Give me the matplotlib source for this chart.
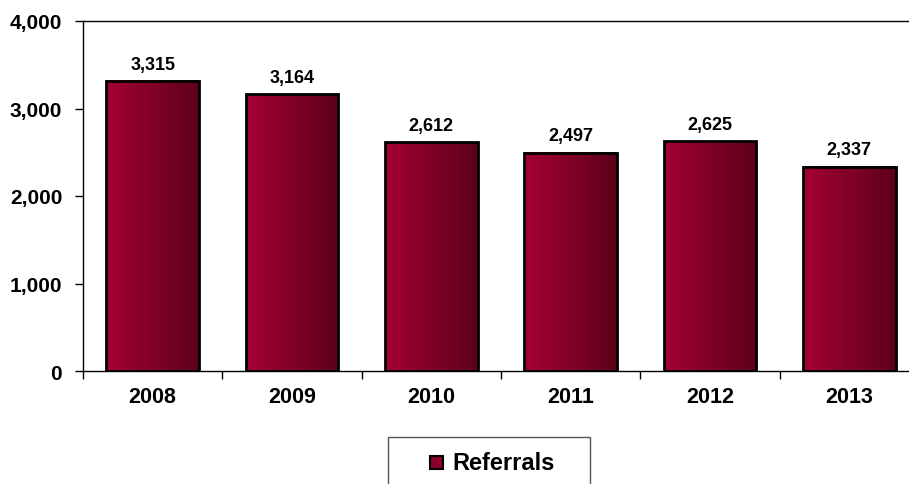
import matplotlib.pyplot as plt
import numpy as np
from matplotlib.patches import Rectangle
from matplotlib.colors import LinearSegmentedColormap

years = ["2008", "2009", "2010", "2011", "2012", "2013"]
referrals = [3315, 3164, 2612, 2497, 2625, 2337]
yticks = [0, 1000, 2000, 3000, 4000]

W, H = 909, 485
plt.rcParams["font.family"] = ["Liberation Sans", "DejaVu Sans"]
plt.rcParams["font.weight"] = "bold"

fig = plt.figure(figsize=(W / 100, H / 100), dpi=100)
# plot area runs slightly past the right edge of the canvas
ax = fig.add_axes([83 / W, 1 - 372 / H, 836 / W, 350 / H])

cmap = LinearSegmentedColormap.from_list("bar", ["#A50034", "#5C0019"])
grad = np.linspace(0, 1, 256).reshape(1, -1)
bw = 0.667
x = np.arange(len(years))
for xi, v in zip(x, referrals):
    ax.imshow(grad, cmap=cmap, aspect="auto", interpolation="bicubic",
              extent=(xi - bw / 2, xi + bw / 2, 0, v), zorder=2)
ax.bar(x, referrals, width=bw, facecolor="none", edgecolor="black", lw=2, zorder=3)
for xi, v in zip(x, referrals):
    ax.annotate(f"{v:,}", (xi, v), xytext=(0, 6), textcoords="offset points",
                ha="center", va="bottom", fontsize=13, fontweight="bold")

ax.set_xlim(-0.5, len(years) - 0.5)
ax.set_ylim(0, 4000)
ax.set_yticks(yticks)
ax.set_yticklabels([f"{t:,}" for t in yticks], fontsize=15, fontweight="bold")
ax.set_xticks(x)
ax.set_xticklabels(years, fontsize=15.5, fontweight="bold")
ax.set_xticks(np.arange(len(years) + 1) - 0.5, minor=True)
ax.tick_params(axis="x", which="major", length=0, pad=11)
ax.tick_params(axis="x", which="minor", length=6, width=1, direction="out")
ax.tick_params(axis="y", length=6, width=1, direction="out", pad=9)
ax.spines["right"].set_visible(False)
for s in ("top", "left", "bottom"):
    ax.spines[s].set_linewidth(1)

# legend box at the bottom
fig.patches.append(Rectangle((388 / W, 1 - 490 / H), 202 / W, 52 / H,
                             transform=fig.transFigure, facecolor="white",
                             edgecolor="#555555", lw=1))
fig.patches.append(Rectangle((430 / W, 1 - 470 / H), 13 / W, 13 / H,
                             transform=fig.transFigure, facecolor="#8A0028",
                             edgecolor="black", lw=1.5))
fig.text(452 / W, 1 - 463 / H, "Referrals", fontsize=17, fontweight="bold",
         ha="left", va="center")

fig.savefig("out.png", dpi=100)
